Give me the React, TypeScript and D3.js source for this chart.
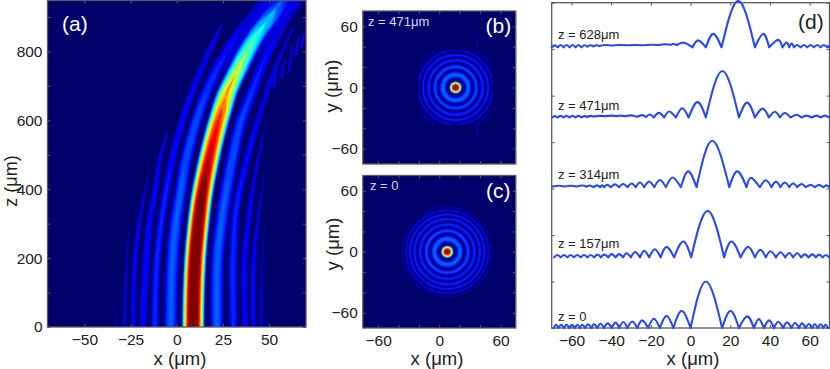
import React, { useEffect, useRef } from "react";
import * as d3 from "d3";

// ---------- data ----------
// panel (a): beam lobes, rows of [z, x centre, half width, peak]
const mainLobe = [[0,8.9,6.5,1.15],[100,9.2,6.5,1.15],[200,10,6.5,1.15],[300,11.7,6.5,1.13],[400,14.2,6.5,1.05],[450,16,6.5,1],[500,18,6.5,.95],[550,20.2,6.5,.91],[600,22.7,6.5,.86],[640,24.9,6.5,.8],[667,26.4,6.5,.73],[735,32,6.5,.6],[800,38,6.6,.5],[850,43.5,6.8,.42],[890,49,7.2,.35],[927,54,8,.23],[948,57,9,.18]];
const mainHalo = [[680,27.5,8,.1],[735,32,9.5,.13],[800,38,11,.16],[850,43.5,12,.18],[900,50.5,13,.2],[948,57,14,.2]];
const leftLobe1 = [[0,-3.3,4.5,.23],[157,-2.7,4.5,.23],[250,-1.5,4.5,.23],[314,-.2,4.4,.23],[400,2.3,4.2,.23],[471,4.5,4.2,.22],[550,8,4.1,.22],[628,12.4,4.1,.21],[700,17.5,4.2,.19],[750,22,4.5,.17],[800,27.5,5,.15],[850,34,6,.14],[900,42,7.5,.13],[948,50,9,.12]];
const leftLobe2 = [[0,-11.8,2.8,.18],[157,-11.1,2.8,.18],[314,-8.1,2.8,.17],[400,-5.5,2.8,.17],[471,-3,2.8,.16],[550,.3,2.7,.155],[628,4.8,2.7,.15],[700,9.5,2.7,.14],[770,15,2.8,.13],[830,20,2.6,.12],[880,24.5,1.2,.09]];
const leftLobe3 = [[0,-18.5,2.6,.16],[157,-17,2.6,.16],[314,-14.5,2.4,.15],[400,-11.5,2.2,.14],[471,-9.8,2,.13],[530,-7,1.6,.11],[575,-5,.4,.08]];
const leftLobe4 = [[0,-23.6,1.9,.14],[157,-23,1.9,.14],[314,-20,1.8,.12],[400,-17,1.2,.1],[460,-15,.3,.08]];
const leftLobe5 = [[0,-28.4,1.5,.11],[100,-27.8,1.4,.11],[200,-27,1.1,.1],[300,-25.8,.3,.08]];
const leftLobe6 = [[0,-32.6,.7,.09],[70,-32.4,.3,.08]];
const rightLobe1 = [[0,21.7,4.5,.23],[157,21.8,4.5,.23],[314,24.5,4.4,.23],[471,29.5,4.4,.22],[600,35,4.3,.2],[700,42,4.3,.17],[800,49.6,4.3,.14],[850,54.6,4.3,.13],[900,60,4.3,.12],[948,66,4.4,.11]];
const rightLobe2 = [[0,30.8,3,.18],[157,30.4,3,.18],[314,31.6,2.9,.17],[471,37.3,2.7,.15],[628,45.6,2.4,.13],[700,50,2.1,.12],[800,57,1.7,.11],[870,63,1,.1]];
const rightLobe3 = [[0,37.1,2.2,.16],[157,36.6,2.2,.16],[314,38.9,2,.14],[471,43.5,1.5,.11],[570,47.5,1,.09],[620,50,.3,.08]];
const rightLobe4 = [[0,41.6,2,.14],[157,41.6,2,.14],[314,44,1.5,.11],[400,46.2,1,.09],[450,47.3,.3,.08]];
const rightLobe5 = [[0,45.8,1.5,.11],[157,46.2,1.2,.1],[260,47.2,.7,.09],[300,47.6,.3,.08]];
const rightLobe6 = [[0,49.4,.7,.09],[70,49.6,.3,.08]];
const streak1 = [[667,48,1.2,.14],[725,50,.7,.12]];
const streak2 = [[693,52.4,1.2,.14],[760,54.4,.7,.12]];
const streak3 = [[722,56.6,1.2,.14],[782,58.6,.7,.12]];
const streak4 = [[739,60.6,1.2,.14],[817,62.6,.7,.12]];
const streak5 = [[788,64.2,1.2,.14],[846,66.2,.7,.12]];
const streak6 = [[812,67.5,1.2,.14],[861,69.5,.7,.12]];
const sideLobes = [leftLobe6,leftLobe5,leftLobe4,leftLobe3,leftLobe2,leftLobe1,rightLobe1,rightLobe2,rightLobe3,rightLobe4,rightLobe5,rightLobe6,streak1,streak2,streak3,streak4,streak5,streak6,mainHalo];

// panels (b) and (c): spot and rings
const ringRadiiC = [12.6,20.5,26.6,32,36.5,40.6,44.3];
const ringWidthC = [4.2,3,2.4,2,1.7,1.2,.5];
const ringPeakC = [.24,.21,.19,.18,.17,.15,.12];
const ringRadiiB = [12.5,20.3,26.6,32,36.5,41,45];
const ringWidthB = [4.2,3,2.4,2,1.5,.9,.6];
const ringPeakB = [.24,.21,.19,.17,.14,.1,.09];
const spotB = { x: 16, w: 6.6, p: 1.05 };
const spotC = { x: 7.8, w: 6.6, p: 1.05 };
const squareHalfB = 36;
const glintXB = [21];
const glintYB = [38, 48];

// panel (d): lobes [left zero, peak x, peak height, level at the left zero]; the next row's first number is the right zero
const profile0 = [[-69,-67.8,.07],[-66.6,-65.2,.07],[-63.9,-62.5,.07],[-61.1,-59.8,.07],[-58.4,-57.1,.07],[-55.8,-54.6,.07],[-53,-51.7,.08],[-50,-48.7,.08],[-47,-45.4,.09],[-43.7,-41.8,.1],[-39.8,-37.8,.115],[-36,-33.9,.13],[-31.9,-29.4,.14],[-26.9,-24.4,.165],[-21.4,-18.5,.2],[-15.5,-12.1,.26],[-8.7,-4.5,.365],[0,7.7,1],[15.9,20.1,.365],[24.4,28.5,.25],[31.9,34.4,.19],[36.9,39.6,.165],[42,44.2,.135],[46.7,48.6,.12],[50.8,52.7,.107],[54.6,56.2,.1],[57.9,59.6,.086],[61.3,62.6,.08],[64.1,65.5,.08],[66.8,68,.07],[69.3,69.3,0]];
const profile157 = [[-68.8,-67.2,.05],[-65.5,-63.8,.05],[-62.1,-60.5,.05],[-58.8,-57.1,.05],[-55.4,-53.7,.05],[-52,-50.4,.05],[-48.6,-46.9,.06],[-45.2,-43.5,.06],[-41.5,-39.8,.07],[-37.8,-36,.07],[-34,-32.3,.09],[-30.1,-27.9,.115],[-25.5,-23.4,.14],[-20.9,-18,.175],[-15.1,-12.1,.225],[-8.3,-3.7,.34],[.3,8.6,1],[16.9,20.6,.34],[25.2,29,.225],[32.4,35.2,.165],[37.9,40.3,.13],[43,45.3,.11],[47.7,49.7,.095],[51.7,53.7,.09],[55.7,57.6,.065],[59.4,61.4,.065],[63.1,64.8,.06],[66.5,68.2,.05],[69.8,69.8,0]];
const profile314 = [[-69.5,-66.5,.03,.015],[-63.5,-60.5,.03,.015],[-57.5,-54.5,.035,.015],[-52.5,-50.7,.035,.01],[-49,-47.2,.04],[-45.5,-44.6,.04],[-43.7,-42,.05],[-40.2,-38.1,.06],[-36,-34,.07],[-31.7,-29.7,.08],[-27.7,-25.5,.1],[-23.4,-20.9,.12],[-18.3,-15.5,.155],[-12.4,-9.1,.21],[-4.9,-1.2,.34],[3,10.9,1],[19.5,23.5,.34],[28.2,30.4,.2],[34.9,37.9,.15],[40.8,43,.12],[45.3,47.5,.1],[49.7,51.7,.08],[53.7,55.9,.07],[58,60.5,.05],[62.6,64.8,.05],[66.8,68.5,.04],[69.8,69.8,0]];
const profile471 = [[-69.8,-68.4,.03],[-67,-65.5,.035],[-64,-62.5,.035],[-61,-59.5,.035],[-58,-56.5,.035],[-55,-53.5,.03],[-52,-50.5,.035,.01],[-49,-46,.035,.02],[-43,-40,.04,.03],[-37,-35,.04,.03],[-33,-30,.045,.025],[-27,-24.5,.05,.015],[-22.5,-20.5,.065,.01],[-18.5,-16,.1],[-13.3,-10.8,.13],[-7.4,-4.2,.2],[-1,3.5,.33],[7.7,16,1],[24.4,28.5,.32],[32.4,36.3,.19],[39.5,42.5,.125],[45,47.5,.095],[50.4,53.4,.06],[55.9,58.4,.04],[61,63.5,.04],[65.6,67.7,.04],[69.7,69.7,0]];
const profile628 = [[-70,-68.5,.045],[-67,-65.5,.05],[-64,-62.5,.05],[-61,-59.5,.05],[-58,-56.5,.05],[-55,-53.5,.045],[-52,-50.5,.045,.015],[-49,-47.5,.045,.02],[-46,-43,.05,.03],[-40,-36,.05,.04],[-32,-28,.05,.045],[-24,-20,.055,.045],[-16,-13,.065,.05],[-10,-8.5,.07,.055],[-7,-3.4,.1,.05],[1,3.8,.15],[7.7,11.4,.29],[15.6,24,1],[32.4,36.6,.29],[39.6,44.1,.16],[46.3,48.4,.1],[49.7,50.9,.08],[52.1,53.6,.05],[55.4,57.1,.05],[58.8,60.5,.05],[62.1,63.8,.05],[65.5,67.2,.05],[68.9,69.5,.03],[69.9,69.9,0]];
const profiles = [profile0, profile157, profile314, profile471, profile628];
const profileOffsets = [0, 1.52, 3.03, 4.53, 6.04];
const profileLabels = ["z = 0", "z = 157μm", "z = 314μm", "z = 471μm", "z = 628μm"];
const profileLabelValues = [.15, 1.73, 3.2, 4.69, 6.22];

// ticks
const xTicksA = [-50, -25, 0, 25, 50];
const zTicksA = [0, 100, 200, 300, 400, 500, 600, 700, 800, 900];
const zLabelsA = [0, 200, 400, 600, 800];
const ticksBC = [-60, -40, -20, 0, 20, 40, 60];
const labelsBC = [-60, 0, 60];
const xTicksD = [-60, -40, -20, 0, 20, 40, 60];
const yTicksD = [0, 1, 2, 3, 4, 5, 6, 7];

// ---------- drawing ----------
const levels = [.07,.1,.13,.16,.19,.22,.26,.3,.35,.4,.45,.5,.55,.6,.65,.7,.75,.8,.84,.88,.92,.96,1];
const jet = d3.scaleLinear<string>().domain([0,.125,.375,.625,.875,1]).range(["#00006a","#0000ff","#00ffff","#ffff00","#ff0000","#800000"]);
const spread = (w: number, p: number, l: number) => (l < p ? w * Math.sqrt(1 - l / p) : 0);

const FONT = "'Liberation Sans', Arial, sans-serif";
const INK = "#222";
const EDGE = "#5a5a5a";

const boxA = { l: 47.5, r: 306, t: 0.5, b: 327 };
const boxB = { l: 362.8, r: 515.8, t: 11, b: 164 };
const boxC = { l: 362.8, r: 515.8, t: 175.5, b: 328 };
const boxD = { l: 551.7, r: 829.5, t: 2.7, b: 328 };

const xA = d3.scaleLinear().domain([-70, 70]).range([boxA.l, boxA.r]);
const zA = d3.scaleLinear().domain([0, 948]).range([boxA.b, boxA.t]);
const xBC = d3.scaleLinear().domain([-75, 75]).range([boxB.l, boxB.r]);
const yB = d3.scaleLinear().domain([-75, 75]).range([boxB.b, boxB.t]);
const yC = d3.scaleLinear().domain([-75, 75]).range([boxC.b, boxC.t]);
const xD = d3.scaleLinear().domain([-70, 70]).range([boxD.l, boxD.r]);
const yD = d3.scaleLinear().domain([0, 7]).range([boxD.b, boxD.t]);

function Axis({ kind, scale, at, ticks, labels, hide }: any) {
  const ref = useRef<SVGGElement>(null);
  useEffect(() => {
    const make = { b: d3.axisBottom, t: d3.axisTop, l: d3.axisLeft, r: d3.axisRight }[kind as "b"];
    const fmt = d3.format("");
    const axis = make(scale).tickValues(ticks).tickSizeInner(-3).tickSizeOuter(0).tickPadding(kind === "l" ? 5 : 7)
      .tickFormat((d: any) => (!hide && labels.includes(d) ? fmt(d) : ""));
    const g = d3.select(ref.current!).call(axis as any);
    g.select(".domain").attr("stroke", "none");
    g.selectAll(".tick line").attr("stroke", EDGE).attr("stroke-width", 1);
    g.selectAll("text").attr("fill", INK).attr("font-family", FONT).attr("font-size", 15.5);
  }, []);
  const tr = kind === "b" || kind === "t" ? `translate(0,${at})` : `translate(${at},0)`;
  return <g ref={ref} transform={tr} />;
}

function Frame({ box, xs, ys, xT, yT, xL, yL }: any) {
  return (
    <g>
      <rect x={box.l} y={box.t} width={box.r - box.l} height={box.b - box.t} fill="none" stroke={EDGE} strokeWidth={1.3} />
      <Axis kind="b" scale={xs} at={box.b} ticks={xT} labels={xL} />
      <Axis kind="t" scale={xs} at={box.t} ticks={xT} labels={[]} hide />
      <Axis kind="l" scale={ys} at={box.l} ticks={yT} labels={yL} />
      <Axis kind="r" scale={ys} at={box.r} ticks={yT} labels={[]} hide />
    </g>
  );
}

function LobeBands({ rows }: { rows: number[][] }) {
  return (
    <g>
      {levels.filter((l) => rows.some((r) => r[3] > l)).map((l) => {
        const area = d3.area<number[]>()
          .y((r) => zA(r[0]))
          .x0((r) => xA(r[1] - spread(r[2], r[3], l)))
          .x1((r) => xA(r[1] + spread(r[2], r[3], l)))
          .curve(d3.curveMonotoneY);
        return <path key={l} d={area(rows) ?? ""} fill={jet(l)} />;
      })}
    </g>
  );
}

function Rings({ xs, ys, radii, widths, peaks, spot }: any) {
  const k = xs(1) - xs(0);
  const cx = xs(spot.x);
  const cy = ys(0);
  return (
    <g>
      {radii.map((r: number, i: number) =>
        levels.filter((l) => peaks[i] > l).map((l) => (
          <circle key={`${i}-${l}`} cx={cx} cy={cy} r={r * k} fill="none" stroke={jet(l)} strokeWidth={2 * k * spread(widths[i], peaks[i], l)} />
        )),
      )}
      {levels.filter((l) => spot.p > l).map((l) => (
        <circle key={l} cx={cx} cy={cy} r={k * spread(spot.w, spot.p, l)} fill={jet(l)} />
      ))}
    </g>
  );
}

function Profile({ lobes, offset }: { lobes: number[][]; offset: number }) {
  const arch = d3.line<number[]>().x((d) => xD(d[0])).y((d) => yD(offset + d[1])).curve(d3.curveNatural);
  const d = d3.pairs(lobes).map(([a, b]) => arch([[a[0], a[3] ?? 0], [a[1], a[2]], [b[0], b[3] ?? 0]])).join("");
  return <path d={d} fill="none" stroke="#2a48ee" strokeWidth={2.1} strokeLinecap="round" strokeLinejoin="round" />;
}

const T = ({ x, y, s, fill, children, anchor, rot }: any) => (
  <text x={rot ? 0 : x} y={rot ? 0 : y} transform={rot ? `translate(${x},${y}) rotate(-90)` : undefined} fontFamily={FONT} fontSize={s} fill={fill ?? INK} textAnchor={anchor ?? "start"}>{children}</text>
);

export default function App() {
  return (
    <svg width={830} height={369} style={{ position: "absolute", left: 0, top: 0, background: "#fff" }}>
      <defs>
        <clipPath id="clipA"><rect x={boxA.l} y={boxA.t} width={boxA.r - boxA.l} height={boxA.b - boxA.t} /></clipPath>
        <clipPath id="clipB"><rect x={boxB.l} y={boxB.t} width={boxB.r - boxB.l} height={boxB.b - boxB.t} /></clipPath>
        <clipPath id="clipC"><rect x={boxC.l} y={boxC.t} width={boxC.r - boxC.l} height={boxC.b - boxC.t} /></clipPath>
        <clipPath id="clipSq">
          <rect x={xBC(spotB.x - squareHalfB)} y={yB(squareHalfB)} width={xBC(squareHalfB) - xBC(-squareHalfB)} height={yB(-squareHalfB) - yB(squareHalfB)} />
        </clipPath>
        <filter id="soft" x="-5%" y="-5%" width="110%" height="110%"><feGaussianBlur stdDeviation="0.6" /></filter>
      </defs>

      {/* panel a */}
      <g clipPath="url(#clipA)">
        <rect x={boxA.l} y={boxA.t} width={boxA.r - boxA.l} height={boxA.b - boxA.t} fill={jet(0)} />
        <g filter="url(#soft)">
          {sideLobes.map((rows, i) => <LobeBands key={i} rows={rows} />)}
          <LobeBands rows={mainLobe} />
        </g>
      </g>
      <Frame box={boxA} xs={xA} ys={zA} xT={xTicksA} yT={zTicksA} xL={xTicksA} yL={zLabelsA} />
      <T x={62} y={31} s={21} fill="#fff">(a)</T>
      <T x={180} y={365} s={18.5} anchor="middle">x (μm)</T>
      <T x={17} y={181} s={18} anchor="middle" rot>z (μm)</T>

      {/* panel b */}
      <g clipPath="url(#clipB)">
        <rect x={boxB.l} y={boxB.t} width={boxB.r - boxB.l} height={boxB.b - boxB.t} fill={jet(0)} />
        <g filter="url(#soft)">
          <g clipPath="url(#clipSq)">
            <Rings xs={xBC} ys={yB} radii={ringRadiiB} widths={ringWidthB} peaks={ringPeakB} spot={spotB} />
          </g>
          {glintXB.map((dx) => [1, -1].map((sign) => (
            <line key={sign} x1={xBC(spotB.x + dx)} x2={xBC(spotB.x + dx)} y1={yB(sign * glintYB[0])} y2={yB(sign * glintYB[1])} stroke={jet(.09)} strokeWidth={1} />
          )))}
        </g>
      </g>
      <Frame box={boxB} xs={xBC} ys={yB} xT={ticksBC} yT={ticksBC} xL={[]} yL={labelsBC} />
      <T x={368} y={26} s={13} fill="#d4d8ee">z = 471μm</T>
      <T x={485.5} y={33} s={21} fill="#fff">(b)</T>
      <T x={338} y={86} s={18.5} anchor="middle" rot>y (μm)</T>

      {/* panel c */}
      <g clipPath="url(#clipC)">
        <rect x={boxC.l} y={boxC.t} width={boxC.r - boxC.l} height={boxC.b - boxC.t} fill={jet(0)} />
        <g filter="url(#soft)">
          <Rings xs={xBC} ys={yC} radii={ringRadiiC} widths={ringWidthC} peaks={ringPeakC} spot={spotC} />
        </g>
      </g>
      <Frame box={boxC} xs={xBC} ys={yC} xT={ticksBC} yT={ticksBC} xL={labelsBC} yL={labelsBC} />
      <T x={370} y={190} s={13} fill="#d4d8ee">z = 0</T>
      <T x={486} y={198} s={21} fill="#fff">(c)</T>
      <T x={339} y={244} s={18.5} anchor="middle" rot>y (μm)</T>
      <T x={437} y={365} s={18.5} anchor="middle">x (μm)</T>

      {/* panel d */}
      <Frame box={boxD} xs={xD} ys={yD} xT={xTicksD} yT={yTicksD} xL={xTicksD} yL={[]} />
      <g filter="url(#soft)">
        {profiles.map((p, i) => <Profile key={i} lobes={p} offset={profileOffsets[i]} />)}
      </g>
      {profileLabels.map((s, i) => (
        <T key={s} x={558} y={yD(profileLabelValues[i])} s={13}>{s}</T>
      ))}
      <T x={798} y={29} s={21}>(d)</T>
      <T x={693} y={365} s={18.5} anchor="middle">x (μm)</T>
    </svg>
  );
}
